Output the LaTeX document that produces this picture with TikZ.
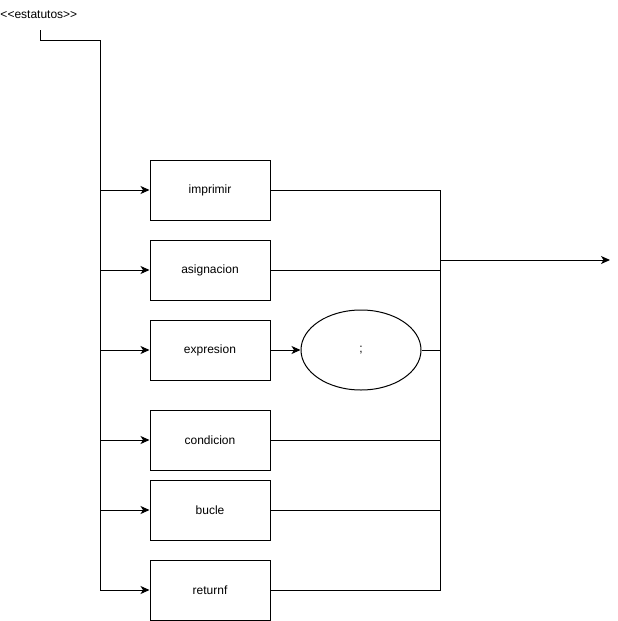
\documentclass[tikz,border=0pt]{standalone}
\usepackage{fontspec}
\setmainfont{Liberation Sans}
\usetikzlibrary{arrows.meta,positioning,shapes.geometric}
\tikzset{
  >={Stealth[length=9pt,width=8pt,inset=2.5pt]},
  flow/.style ={x=1pt, y=-1pt, line width=1pt, font=\fontsize{12}{14}\selectfont},
  st/.style   ={draw, minimum width=120pt, minimum height=60pt, inner sep=0pt},
  sym/.style  ={draw, ellipse, minimum width=120pt, minimum height=80pt, inner sep=0pt},
  tag/.style  ={anchor=west, inner sep=0pt}
}
\begin{document}
\begin{tikzpicture}[flow]
\useasboundingbox (0,0) rectangle (618,621);
\node[tag] (est) at (0,15) {<\kern0pt<estatutos>\kern0pt>};
\node[st] (imp) at (210,190) {imprimir};
\node[st] (asg) at (210,270) {asignacion};
\node[st] (exp) at (210,350) {expresion};
\node[sym, right=30pt of exp] (pc) {;};
\node[st] (cnd) at (210,440) {condicion};
\node[st] (bcl) at (210,510) {bucle};
\node[st] (ret) at (210,590) {returnf};
\coordinate (s0) at (40,30);
\coordinate (t) at (100,40);
\coordinate (j) at (440,260);
\coordinate (fin) at (610,260);
% entrada
\draw[->] (s0) |- (t) |- (ret.west);
\foreach \b in {imp,asg,exp,cnd,bcl}
  \draw[->] (t |- \b.west) -- (\b.west);
\draw[->] (exp) -- (pc);
% salida
\draw (imp.east) -| (j |- ret.east) -- (ret.east);
\foreach \b in {asg,pc,cnd,bcl}
  \draw (\b.east) -- (\b.east -| j);
\draw[->] (j) -- (fin);
\end{tikzpicture}
\end{document}
